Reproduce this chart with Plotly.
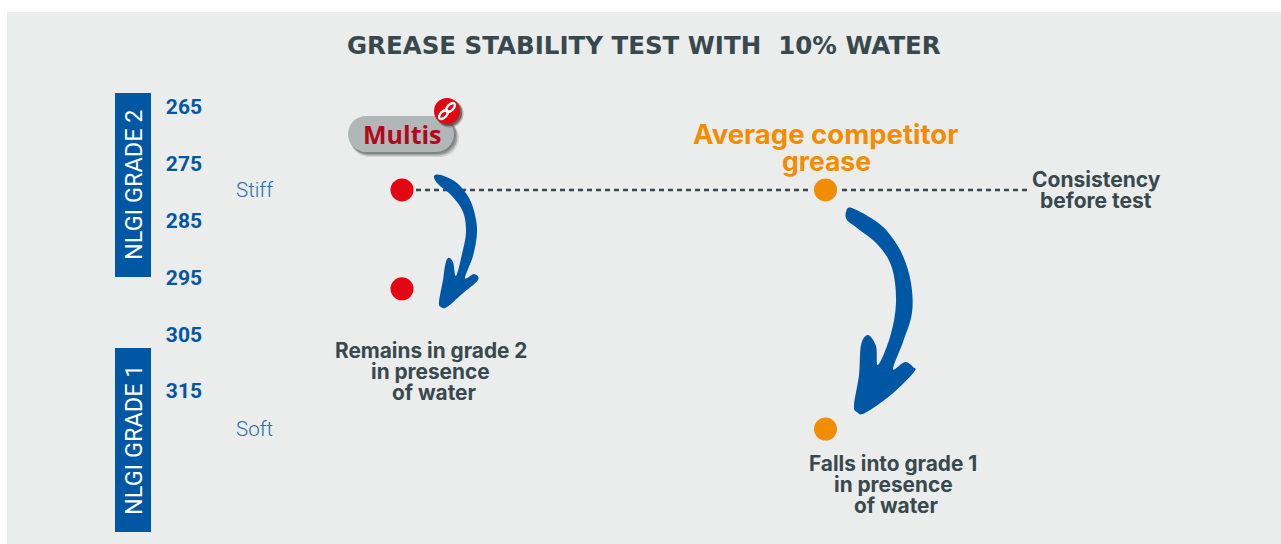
import math
import plotly.graph_objects as go

W, H = 1281, 544

# ---- data ----
products = ["Multis", "Average competitor grease"]
before_test = [279.6, 279.6]
after_test = [297.0, 321.7]
point_colors = ["#e30613", "#f28c00"]
y_ticks = [265, 275, 285, 295, 305, 315]
grades = ["NLGI GRADE 2", "NLGI GRADE 1"]
title_text = "GREASE STABILITY TEST WITH  10% WATER"

BLUE = "#0057a4"
DARK = "#37494e"
PANEL = "#ebecec"
FONT = "Inter"
TITLE_FONT = "DejaVu Sans"

# horizontal layout in pixels, vertical axis calibrated to penetration values
PRODUCT_X = [402, 825.5]
Y0_VAL, Y0_PX, PX_PER_UNIT = 265, 107, 5.68


def val(py):
    return Y0_VAL + (py - Y0_PX) / PX_PER_UNIT


def fx(px):
    return px / W


def fy(py):
    return 1 - py / H


def smooth_path(pts, t=0.17):
    """Closed Catmull-Rom outline in paper coordinates."""
    n = len(pts)
    d = f"M {fx(pts[0][0]):.5f} {fy(pts[0][1]):.5f}"
    for i in range(n):
        p0, p1, p2, p3 = pts[i - 1], pts[i], pts[(i + 1) % n], pts[(i + 2) % n]
        c1 = (p1[0] + (p2[0] - p0[0]) * t, p1[1] + (p2[1] - p0[1]) * t)
        c2 = (p2[0] - (p3[0] - p1[0]) * t, p2[1] - (p3[1] - p1[1]) * t)
        d += (f" C {fx(c1[0]):.5f} {fy(c1[1]):.5f} {fx(c2[0]):.5f} {fy(c2[1]):.5f}"
              f" {fx(p2[0]):.5f} {fy(p2[1]):.5f}")
    return d + " Z"


def paper_shape(**kw):
    return dict(xref="paper", yref="paper", **kw)


def rect(x0, y0, x1, y1, color, layer="below"):
    return paper_shape(type="rect", x0=fx(x0), x1=fx(x1), y0=fy(y1), y1=fy(y0),
                       fillcolor=color, line_width=0, layer=layer)


def circle(cx, cy, r, color, opacity=1, layer="above"):
    return paper_shape(type="circle", x0=fx(cx - r), x1=fx(cx + r), y0=fy(cy + r), y1=fy(cy - r),
                       fillcolor=color, line_width=0, opacity=opacity, layer=layer)


def pill(x0, y0, x1, y1, color, opacity=1):
    r = (y1 - y0) / 2
    k = r * 0.55
    d = (f"M {fx(x0 + r)} {fy(y0)} L {fx(x1 - r)} {fy(y0)} "
         f"C {fx(x1 - r + k)} {fy(y0)} {fx(x1)} {fy(y0 + r - k)} {fx(x1)} {fy(y0 + r)} "
         f"C {fx(x1)} {fy(y1 - r + k)} {fx(x1 - r + k)} {fy(y1)} {fx(x1 - r)} {fy(y1)} "
         f"L {fx(x0 + r)} {fy(y1)} "
         f"C {fx(x0 + r - k)} {fy(y1)} {fx(x0)} {fy(y1 - r + k)} {fx(x0)} {fy(y1 - r)} "
         f"C {fx(x0)} {fy(y0 + r - k)} {fx(x0 + r - k)} {fy(y0)} {fx(x0 + r)} {fy(y0)} Z")
    return paper_shape(type="path", path=d, fillcolor=color, line_width=0, opacity=opacity, layer="above")


def link(cx, cy, a, b, angle):
    pts = []
    for i in range(8):
        t = i * math.pi / 4
        x, y = a * math.cos(t), b * math.sin(t)
        pts.append((cx + x * math.cos(angle) - y * math.sin(angle),
                    cy + x * math.sin(angle) + y * math.cos(angle)))
    return paper_shape(type="path", path=smooth_path(pts), line=dict(color="white", width=2.4),
                       fillcolor="rgba(0,0,0,0)", layer="above")


ARROW_SMALL = [(434, 176), (441, 175), (457, 183), (469, 198), (475, 215), (477, 233), (473, 256),
               (465, 278), (474, 274), (478, 280), (462, 294), (447, 307), (441, 307), (439, 302),
               (443, 280), (445, 266), (448, 258), (453, 262), (456, 276), (462, 254), (466, 232),
               (463, 212), (452, 196), (438, 184)]
ARROW_BIG = [(846, 212), (852, 208), (877, 222), (891, 236), (903, 256), (911, 283), (912, 313),
             (903, 342), (893, 369), (905, 362), (913, 367), (914, 372), (892, 394), (865, 413),
             (857, 412), (854, 405), (859, 375), (861, 345), (868, 335), (876, 346), (878, 365),
             (890, 337), (896, 303), (892, 268), (878, 245), (857, 228), (847, 220)]

shapes = [
    rect(7, 12, W, H, PANEL),
    rect(115, 93, 151, 277, BLUE),
    rect(115, 348, 151, 532, BLUE),
    pill(350, 119, 459, 157, "#6f7475", 0.2),
    pill(350, 118, 457.5, 155.5, "#5f6465", 0.4),
    pill(349, 117, 456, 154, "#5f6465", 0.5),
    pill(348, 116, 454, 152, "#b1b6b7"),
    circle(449.5, 113.5, 14, "#3a3030", 0.3),
    circle(449, 113, 13, "#3a3030", 0.6),
    circle(447, 111, 13, "#e30613"),
    link(450.5, 107.5, 5.5, 3, -math.pi / 4),
    link(443.5, 114.5, 5.5, 3, -math.pi / 4),
    paper_shape(type="path", path=smooth_path(ARROW_SMALL), fillcolor=BLUE, line_width=0, layer="above"),
    paper_shape(type="path", path=smooth_path(ARROW_BIG), fillcolor=BLUE, line_width=0, layer="above"),
]


def label(px, py, text, size, color=DARK, weight=700, family=FONT, angle=0):
    return dict(xref="paper", yref="paper", x=fx(px), y=fy(py), text=text, showarrow=False,
                xanchor="center", yanchor="middle", textangle=angle,
                font=dict(family=family, size=size, color=color, weight=weight))


annotations = [
    label(644, 45, title_text, 24.5, family=TITLE_FONT),
    label(134, 185, grades[0], 23.5, "white", 400, "Roboto", -90),
    label(134, 440, grades[1], 23.5, "white", 400, "Roboto", -90),
    label(254, 190, "Stiff", 20.5, "#2a6cb0", 300, "Roboto"),
    label(254, 429, "Soft", 20.5, "#2a6cb0", 300, "Roboto"),
    label(402, 134, products[0], 25, "#b0091c", 700, "Open Sans"),
    label(825, 134, "Average competitor", 27.5, "#f28c00"),
    label(826, 161, "grease", 26.5, "#f28c00"),
    label(1096.5, 179, "Consistency", 21),
    label(1096, 200, "before test", 21),
    label(431, 350, "Remains in grade 2", 20.8),
    label(430.5, 371, "in presence", 20.8),
    label(434, 392, "of water", 20.8),
    label(893, 463, "Falls into grade 1", 20.8),
    label(893, 484, "in presence", 20.8),
    label(896, 505, "of water", 20.8),
]

fig = go.Figure()
dash_style = dict(color=DARK, width=2.5, dash="5px,4px")
fig.add_trace(go.Scatter(x=[416, 808], y=[before_test[0]] * 2, mode="lines", line=dash_style, showlegend=False))
fig.add_trace(go.Scatter(x=[842, 1030], y=[before_test[1]] * 2, mode="lines", line=dash_style, showlegend=False))
for name, x, b, a, c in zip(products, PRODUCT_X, before_test, after_test, point_colors):
    fig.add_trace(go.Scatter(x=[x, x], y=[b, a], mode="markers", name=name, showlegend=False,
                             marker=dict(size=23, color=c, line_width=0)))

fig.update_layout(
    width=W, height=H, margin=dict(l=0, r=0, t=0, b=0),
    paper_bgcolor="white", plot_bgcolor="rgba(0,0,0,0)",
    shapes=shapes, annotations=annotations, showlegend=False,
    xaxis=dict(visible=False, range=[0, W], domain=[0, 1], fixedrange=True),
    yaxis=dict(range=[val(H), val(0)], anchor="free", position=202 / W, tickmode="array",
               tickvals=y_ticks, ticktext=[str(v) for v in y_ticks], showgrid=False, zeroline=False,
               showline=False, ticks="", automargin=False, fixedrange=True,
               tickfont=dict(family="Roboto", size=21, color=BLUE, weight=700)),
)
fig.write_html("out.html", config=dict(displayModeBar=False),
               post_script="document.body.style.margin='0';document.documentElement.style.overflow='hidden';")
